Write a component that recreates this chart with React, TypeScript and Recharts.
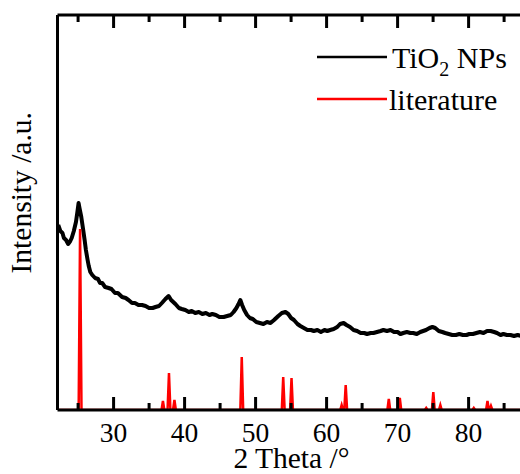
import { LineChart, Line, XAxis, YAxis, Legend } from 'recharts';

// measured TiO2 NP pattern (2 theta, intensity a.u.)
const tiAngle = [
  22.2, 22.5, 22.8, 23.0, 23.3, 23.6, 23.9, 24.1, 24.4, 24.7, 24.9, 25.07, 25.2, 25.45, 25.7, 25.92,
  26.1, 26.34, 26.5, 26.72, 27.0, 27.4, 27.8, 28.1, 28.4, 28.8, 29.3, 29.7, 30.2, 30.6, 31.2, 31.7,
  32.1, 32.6, 33.0, 33.5, 34.0, 34.5, 35.0, 35.5, 35.9, 36.4, 36.8, 37.3, 37.75, 38.1, 38.7, 39.2,
  39.6, 40.1, 40.6, 41.0, 41.5, 42.0, 42.5, 43.0, 43.5, 43.9, 44.4, 44.9, 45.5, 46.0, 46.5, 46.9,
  47.3, 47.6, 47.85, 48.1, 48.4, 48.8, 49.2, 49.6, 50.1, 50.6, 51.1, 51.6, 52.1, 52.6, 53.2, 53.7,
  54.2, 54.6, 55.0, 55.4, 55.9, 56.3, 56.8, 57.3, 57.8, 58.2, 58.7, 59.2, 59.7, 60.1, 60.5, 61.0,
  61.5, 61.9, 62.4, 62.8, 63.3, 63.8, 64.3, 64.8, 65.3, 65.7, 66.2, 66.6, 67.1, 67.6, 68.0, 68.5,
  69.0, 69.5, 70.0, 70.4, 70.8, 71.3, 71.8, 72.2, 72.7, 73.2, 73.6, 74.0, 74.5, 74.9, 75.3, 75.8,
  76.3, 76.7, 77.2, 77.7, 78.2, 78.7, 79.2, 79.7, 80.1, 80.6, 81.1, 81.6, 82.1, 82.6, 83.1, 83.6,
  84.0, 84.5, 84.9, 85.4, 85.9, 86.4, 86.9, 87.4, 87.9,
];
const tiIntensity = [
  185, 179, 177, 172, 170, 166, 169, 172, 179, 188, 198, 207, 202, 193, 181, 170,
  160, 150, 144, 138, 135, 132, 131, 127, 127, 123, 122, 121, 117, 117, 113, 112,
  110, 107, 107, 105, 105, 104, 102, 102, 103, 104, 107, 111, 114, 110, 106, 102,
  101, 100, 98, 99, 97, 98, 96, 97, 95, 96, 95, 93, 93, 94, 95, 98,
  102, 106, 110, 105, 100, 95, 92, 91, 88, 87, 86, 88, 87, 90, 94, 97,
  98, 96, 92, 90, 86, 84, 82, 80, 80, 79, 80, 78, 80, 79, 80, 81,
  83, 86, 87, 85, 83, 80, 79, 77, 77, 76, 77, 77, 78, 79, 80, 79,
  80, 78, 78, 76, 77, 78, 77, 77, 76, 78, 79, 80, 82, 83, 82, 79,
  78, 77, 76, 75, 75, 76, 75, 75, 76, 76, 77, 78, 77, 79, 79, 78,
  77, 75, 76, 75, 75, 74, 75, 74, 74,
];

// reference (anatase) stick pattern
const litAngle = [25.28, 36.95, 37.8, 38.57, 48.05, 53.89, 55.06, 62.12, 62.69, 68.76, 70.31, 74.03, 75.03, 76.02, 80.73, 82.66, 83.15];
const litHeight = [181, 9, 37, 10, 53, 33, 32, 5, 25, 11, 12, 2, 18, 5, 2, 9, 4];

const xTicks = [25, 30, 35, 40, 45, 50, 55, 60, 65, 70, 75, 80, 85];
const xDomain = [22.1, 88];

const serif = 'Liberation Serif, Times New Roman, serif';

const tiData = tiAngle.map((x, i) => ({ x, y: tiIntensity[i] }));

const litData = [{ x: xDomain[0], y: 0 }];
litAngle.forEach((a, i) => {
  litData.push({ x: a - 0.2, y: 0 }, { x: a, y: litHeight[i] }, { x: a + 0.2, y: 0 });
});
litData.push({ x: xDomain[1], y: 0 });

const BottomTick = (props: any) => {
  const { x, y, payload } = props;
  const major = payload.value % 10 === 0;
  return (
    <g>
      <line x1={x} x2={x} y1={y} y2={y - (major ? 13 : 7)} stroke="#000" strokeWidth={3} />
      {major && (
        <text x={x} y={y + 32} textAnchor="middle" fontSize={27.5} style={{ fontFamily: serif }} fill="#000">
          {payload.value}
        </text>
      )}
    </g>
  );
};

const TopTick = (props: any) => {
  const { x, y, payload } = props;
  const major = payload.value % 10 === 0;
  return <line x1={x} x2={x} y1={y} y2={y + (major ? 13 : 7)} stroke="#000" strokeWidth={3} />;
};

const yLabel = (props: any) => {
  const { viewBox } = props;
  const cy = viewBox.y + viewBox.height * 0.45;
  return (
    <text x={31} y={cy} transform={`rotate(-90, 31, ${cy})`} textAnchor="middle" fontSize={29.5} style={{ fontFamily: serif }} fill="#000">
      Intensity /a.u.
    </text>
  );
};

const xLabel = (props: any) => {
  const { viewBox } = props;
  const cx = viewBox.x + viewBox.width / 2;
  return (
    <text x={cx} y={468} textAnchor="middle" fontSize={29.5} style={{ fontFamily: serif }} fill="#000">
      2 Theta /°
    </text>
  );
};

const LegendBox = () => (
  <svg width={210} height={90} style={{ fontFamily: serif }}>
    <line x1={7} x2={77} y1={22} y2={22} stroke="#000" strokeWidth={2.5} />
    <text x={82} y={33} fontSize={30} fill="#000">
      TiO<tspan fontSize={20} dy={8}>2</tspan>
      <tspan dy={-8}> NPs</tspan>
    </text>
    <line x1={7} x2={77} y1={64} y2={64} stroke="#ff0000" strokeWidth={2.5} />
    <text x={79} y={75} fontSize={30} fill="#000">
      literature
    </text>
  </svg>
);

export default function App() {
  return (
    <div style={{ position: 'absolute', left: 0, top: 0, width: 520, height: 474, overflow: 'hidden', background: '#fff' }}>
      <LineChart width={540} height={474} margin={{ top: 14, right: 14.6, bottom: 0, left: 0 }}>
        <XAxis
          dataKey="x"
          type="number"
          domain={xDomain}
          ticks={xTicks}
          allowDataOverflow
          height={64}
          tickSize={0}
          tickMargin={0}
          tickLine={false}
          tick={<BottomTick />}
          axisLine={{ stroke: '#000', strokeWidth: 3 }}
          label={xLabel}
        />
        <XAxis
          xAxisId="top"
          orientation="top"
          dataKey="x"
          type="number"
          domain={xDomain}
          ticks={xTicks}
          allowDataOverflow
          height={1}
          tickSize={0}
          tickMargin={0}
          tickLine={false}
          tick={<TopTick />}
          axisLine={{ stroke: '#000', strokeWidth: 3 }}
        />
        <YAxis
          type="number"
          domain={[0, 395]}
          allowDataOverflow
          width={57.5}
          tick={false}
          tickLine={false}
          axisLine={{ stroke: '#000', strokeWidth: 3 }}
          label={yLabel}
        />
        <Legend
          layout="vertical"
          align="center"
          verticalAlign="middle"
          content={<LegendBox />}
          wrapperStyle={{ top: 35, left: 310, width: 210, height: 90 }}
        />
        <Line
          data={tiData}
          dataKey="y"
          name="TiO2 NPs"
          type="linear"
          stroke="#000"
          strokeWidth={4}
          strokeLinejoin="round"
          dot={false}
          isAnimationActive={false}
        />
        <Line
          data={litData}
          xAxisId="top"
          dataKey="y"
          name="literature"
          type="linear"
          stroke="#ff0000"
          strokeWidth={2.5}
          dot={false}
          isAnimationActive={false}
        />
      </LineChart>
    </div>
  );
}
